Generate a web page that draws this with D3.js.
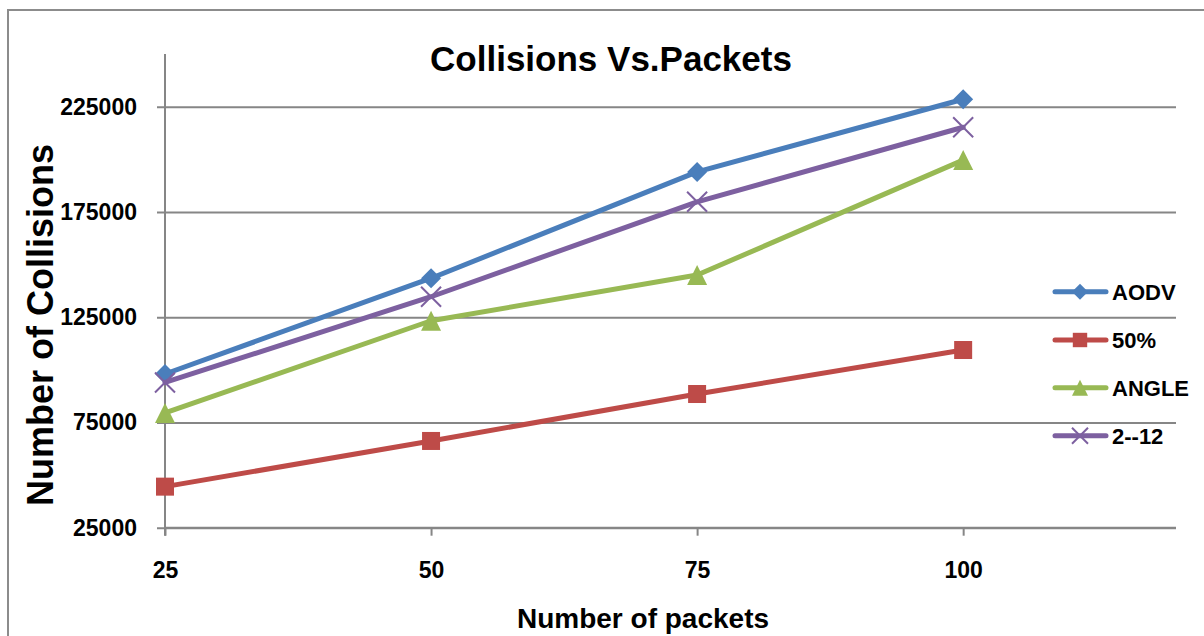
<!DOCTYPE html>
<html>
<head>
<meta charset="utf-8">
<script src="https://cdn.jsdelivr.net/npm/d3@7"></script>
<style>
  html, body { margin: 0; padding: 0; background: #fff; }
  svg { display: block; }
  text { font-family: "Liberation Sans", Arial, sans-serif; font-weight: bold; fill: #000; }
</style>
</head>
<body>
<svg id="chart" width="1204" height="636"></svg>
<script>
// ---- data ----
const packets = [25, 50, 75, 100];
const seriesNames = ["AODV", "50%", "ANGLE", "2--12"];
const aodv   = [98000, 143500, 194000, 228500];
const pct50  = [44500, 66200, 88500, 109400];
const angle  = [79500, 123300, 145000, 199600];
const twelve = [94000, 134700, 179800, 215200];
const yTicks = [25000, 75000, 125000, 175000, 225000];
const xTicks = [25, 50, 75, 100];
const colors = ["#4A7EBB", "#BE4B48", "#98B954", "#7D60A0"];
const markers = ["diamond", "square", "triangle", "cross"];

const allSeries = [aodv, pct50, angle, twelve].map((vals, i) => ({
  name: seriesNames[i], color: colors[i], marker: markers[i],
  points: vals.map((v, j) => ({ x: packets[j], y: v }))
}));

// ---- layout ----
const svg = d3.select("#chart");
const pLeft = 165, pRight = 1176, pTop = 54, pBottom = 527.7;
const x = d3.scaleLinear().domain([25, 120]).range([pLeft, pRight]);
const y = d3.scaleLinear().domain([25000, 250000]).range([pBottom, pTop]);
const axisColor = "#868686";

// outer border
svg.append("rect").attr("x", 8).attr("y", 10).attr("width", 1220).attr("height", 660)
  .attr("fill", "#fff").attr("stroke", "#8c8c8c").attr("stroke-width", 2);

// y axis with gridlines
const yAxis = d3.axisLeft(y).tickValues(yTicks).tickSize(-(pRight - pLeft)).tickSizeOuter(0).tickPadding(20)
  .tickFormat(d3.format("d"));
const gy = svg.append("g").attr("transform", `translate(${pLeft},0)`).call(yAxis);
gy.select(".domain").remove();
gy.selectAll(".tick line").attr("stroke", axisColor).attr("stroke-width", 2).attr("x1", -8);
gy.selectAll(".tick text").attr("x", -28).style("font-size", "23px")
  .style("font-family", "'Liberation Sans', Arial, sans-serif").style("font-weight", "bold").attr("fill", "#000");

// x axis
const xAxis = d3.axisBottom(x).tickValues(xTicks).tickSize(8).tickSizeOuter(0).tickPadding(26)
  .tickFormat(d3.format("d"));
const gx = svg.append("g").attr("transform", `translate(0,${pBottom})`).call(xAxis);
gx.select(".domain").attr("stroke", axisColor).attr("stroke-width", 2)
  .attr("d", `M${pLeft},0H${pRight}`);
gx.selectAll(".tick line").attr("stroke", axisColor).attr("stroke-width", 2);
gx.selectAll(".tick text").style("font-size", "23px")
  .style("font-family", "'Liberation Sans', Arial, sans-serif").style("font-weight", "bold").attr("fill", "#000");

// y axis line
svg.append("line").attr("x1", pLeft).attr("x2", pLeft).attr("y1", pTop).attr("y2", pBottom + 8)
  .attr("stroke", axisColor).attr("stroke-width", 2);

// marker drawing
function drawMarker(g, type, color, size) {
  const h = size / 2;
  if (type === "diamond") {
    g.append("path").attr("d", `M0,${-h}L${h},0L0,${h}L${-h},0Z`).attr("fill", color);
  } else if (type === "square") {
    const s = size * 0.9;
    g.append("rect").attr("x", -s / 2).attr("y", -s / 2).attr("width", s).attr("height", s).attr("fill", color);
  } else if (type === "triangle") {
    g.append("path").attr("d", `M0,${-h}L${h},${h}L${-h},${h}Z`).attr("fill", color);
  } else if (type === "cross") {
    g.append("path").attr("d", `M${-h},${-h}L${h},${h}M${h},${-h}L${-h},${h}`)
      .attr("stroke", color).attr("stroke-width", 2).attr("fill", "none");
  }
}

// series
const line = d3.line().x(d => x(d.x)).y(d => y(d.y));
allSeries.forEach(s => {
  const g = svg.append("g");
  g.append("path").datum(s.points).attr("d", line).attr("fill", "none")
    .attr("stroke", s.color).attr("stroke-width", 5).attr("stroke-linejoin", "round").attr("stroke-linecap", "round");
  s.points.forEach(p => {
    const mg = g.append("g").attr("transform", `translate(${x(p.x)},${y(p.y)})`);
    drawMarker(mg, s.marker, s.color, 20);
  });
});

// legend
const legY = [291.7, 340, 387.7, 435.7];
allSeries.forEach((s, i) => {
  const g = svg.append("g").attr("transform", `translate(0,${legY[i]})`);
  g.append("line").attr("x1", 1055).attr("x2", 1106).attr("y1", 0).attr("y2", 0)
    .attr("stroke", s.color).attr("stroke-width", 5).attr("stroke-linecap", "round");
  const mg = g.append("g").attr("transform", "translate(1080,0)");
  drawMarker(mg, s.marker, s.color, 16);
  g.append("text").attr("x", 1112).attr("y", 0).attr("dy", "0.36em")
    .style("font-size", "22px").text(s.name);
});

// titles
svg.append("text").attr("x", 611).attr("y", 71).attr("text-anchor", "middle")
  .style("font-size", "35px").text("Collisions Vs.Packets");
svg.append("text").attr("transform", "translate(53,325) rotate(-90)").attr("text-anchor", "middle")
  .style("font-size", "36px").text("Number of Collisions");
svg.append("text").attr("x", 643).attr("y", 628).attr("text-anchor", "middle")
  .style("font-size", "28px").text("Number of packets");
</script>
</body>
</html>
